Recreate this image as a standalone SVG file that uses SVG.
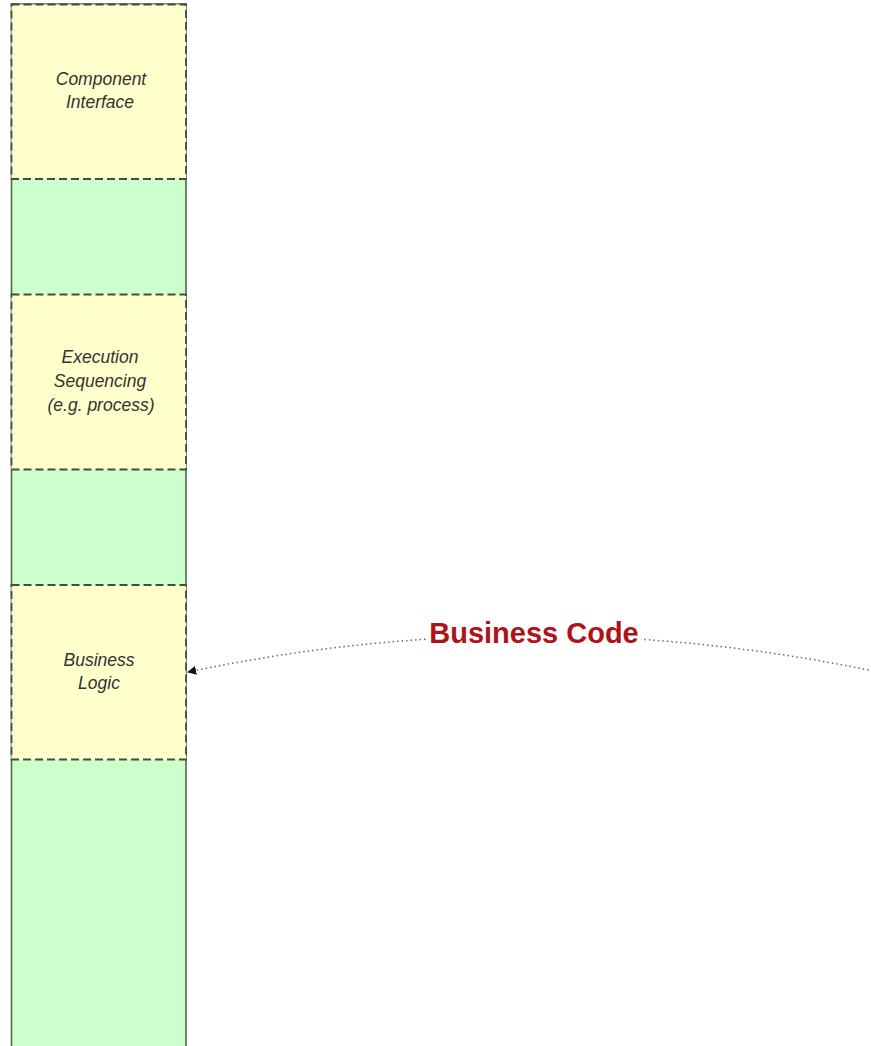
<svg xmlns="http://www.w3.org/2000/svg" width="871" height="1046" viewBox="0 0 871 1046">
  <style>
    .layer { fill: #ffffcc; stroke: #474a44; stroke-width: 1.8; stroke-dasharray: 8 4; }
    .lbl { font-family: "Liberation Sans", Arial, sans-serif; font-style: italic; font-size: 17.5px; fill: #333333; text-anchor: middle; }
    .conn { fill: none; stroke: #6a6a6a; stroke-width: 1.5; stroke-dasharray: 1.5 3; }
    .big { font-family: "Liberation Sans", Arial, sans-serif; font-weight: bold; font-size: 29px; fill: #b0121b; text-anchor: middle; }
  </style>
  <defs>
    <marker id="arrow" viewBox="0 0 10 10" refX="9" refY="5" markerWidth="9" markerHeight="9" orient="auto" markerUnits="userSpaceOnUse">
      <path d="M0,0 L10,5 L0,10 z" fill="#111111"/>
    </marker>
  </defs>
  <rect width="871" height="1046" fill="#ffffff"/>

  <!-- container column -->
  <g id="stack">
    <rect x="11.5" y="4" width="174.5" height="1060" fill="#ccffcc" stroke="#556655" stroke-width="1.6"/>
  </g>

  <g id="component-interface">
    <rect class="layer" x="11.5" y="4.5" width="174.5" height="174.5"/>
    <text class="lbl" x="101" y="85">Component</text>
    <text class="lbl" x="100" y="108">Interface</text>
  </g>

  <g id="execution-sequencing">
    <rect class="layer" x="11.5" y="294.5" width="174.5" height="175"/>
    <text class="lbl" x="100" y="363">Execution</text>
    <text class="lbl" x="100" y="387">Sequencing</text>
    <text class="lbl" x="101" y="411">(e.g. process)</text>
  </g>

  <g id="business-logic">
    <rect class="layer" x="11.5" y="585" width="174.5" height="174.5"/>
    <text class="lbl" x="99" y="666">Business</text>
    <text class="lbl" x="99" y="689">Logic</text>
  </g>

  <g id="connectors">
    <path class="conn" d="M873,671 Q530,600 188,672" marker-end="url(#arrow)"/>
  </g>

  <g id="business-code">
    <rect x="427" y="617" width="214" height="33" fill="#ffffff"/>
    <text class="big" x="534" y="643">Business Code</text>
  </g>
</svg>
